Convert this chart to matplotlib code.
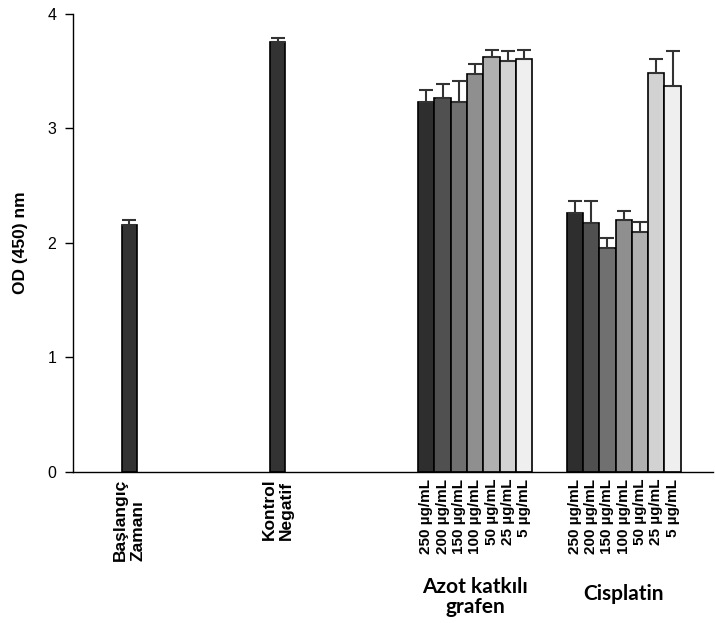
import matplotlib.pyplot as plt
import matplotlib.transforms as mtransforms
import numpy as np

plt.rcParams['font.family'] = ['Liberation Sans', 'DejaVu Sans']

# control bars
ctrl_labels = ['Başlangıç\nZamanı', 'Kontrol\nNegatif']
ctrl_values = [2.15, 3.75]
ctrl_err = [0.05, 0.04]

# concentration groups
conc_labels = ['250 µg/mL', '200 µg/mL', '150 µg/mL', '100 µg/mL',
               '50 µg/mL', '25 µg/mL', '5 µg/mL']
group_names = ['Azot katkılı\ngrafen', 'Cisplatin']
azot_values = [3.23, 3.26, 3.23, 3.47, 3.62, 3.59, 3.60]
azot_err = [0.10, 0.13, 0.18, 0.09, 0.06, 0.08, 0.08]
cis_values = [2.26, 2.17, 1.95, 2.20, 2.09, 3.48, 3.37]
cis_err = [0.10, 0.19, 0.09, 0.08, 0.09, 0.12, 0.30]

shades = ['#2e2e2e', '#505050', '#707070', '#8f8f8f', '#b0b0b0', '#d2d2d2', '#efefef']

fig = plt.figure(figsize=(7.15, 6.23), dpi=100)
ax = fig.add_axes([0.102, 0.243, 0.895, 0.735])

ctrl_x = [3.47, 12.56]
azot_x = 21.68 + np.arange(7)
cis_x = 30.79 + np.arange(7)

err_kw = dict(ecolor='#333333', elinewidth=1.5, capsize=5, capthick=1.5)
ax.bar(ctrl_x, ctrl_values, width=0.96, color='#333333', edgecolor='black',
       linewidth=1.2, yerr=[np.zeros(2), ctrl_err], error_kw=err_kw)
ax.bar(azot_x, azot_values, width=1.0, color=shades, edgecolor='black',
       linewidth=1.2, yerr=[np.zeros(7), azot_err], error_kw=err_kw)
ax.bar(cis_x, cis_values, width=1.0, color=shades, edgecolor='black',
       linewidth=1.2, yerr=[np.zeros(7), cis_err], error_kw=err_kw)

ax.set_xlim(0, 39.26)
ax.set_ylim(0, 4)
ax.set_yticks([0, 1, 2, 3, 4])
ax.tick_params(axis='y', direction='out', length=6, width=1, labelsize=11.5, pad=6)
ax.set_ylabel('OD (450) nm', fontsize=12.5, fontweight='bold', labelpad=14)

ax.spines['top'].set_visible(False)
ax.spines['right'].set_visible(False)
ax.spines['left'].set_linewidth(1)
ax.spines['bottom'].set_linewidth(1)

xt = list(ctrl_x) + list(azot_x) + list(cis_x)
xl = ctrl_labels + conc_labels + conc_labels
ax.set_xticks(xt)
ax.set_xticklabels(xl, rotation=90, fontsize=11, fontweight='bold',
                   va='top', ha='center', multialignment='left')
for lbl in ax.get_xticklabels()[:2]:
    lbl.set_fontsize(12.5)
ax.tick_params(axis='x', length=0, pad=5)

trans = mtransforms.blended_transform_factory(ax.transData, fig.transFigure)
ax.text(azot_x.mean(), 0.041, group_names[0], transform=trans, ha='center',
        va='center', fontsize=15, fontweight='bold', family=['Lato', 'DejaVu Sans'],
        linespacing=1.0)
ax.text(cis_x.mean(), 0.047, group_names[1], transform=trans, ha='center',
        va='center', fontsize=15, fontweight='bold', family=['Lato', 'DejaVu Sans'])

fig.savefig('out.png', dpi=100)
